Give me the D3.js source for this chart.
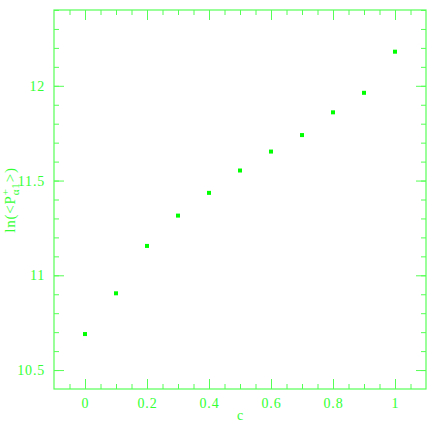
<!DOCTYPE html>
<html>
<head>
<meta charset="utf-8">
<script src="https://cdn.jsdelivr.net/npm/d3@7"></script>
<style>
  body { margin: 0; background: #fff; }
  text { font-family: "Liberation Serif", "DejaVu Serif", serif; fill: #33ff33; }
</style>
</head>
<body>
<svg id="chart" width="436" height="436"></svg>
<script>
    // values
    const cValues = [0, 0.1, 0.2, 0.3, 0.4, 0.5, 0.6, 0.7, 0.8, 0.9, 1.0];
    const lnValues = [10.69, 10.905, 11.155, 11.315, 11.435, 11.553, 11.653, 11.74, 11.86, 11.963, 12.18];
    const xTicks = [0, 0.2, 0.4, 0.6, 0.8, 1];
    const yTicks = [10.5, 11, 11.5, 12];

    const green = "#00ff00";
    const axisGreen = "#55ff55";

    const svg = d3.select("#chart");
    const mLeft = 54, mRight = 426, mTop = 10, mBottom = 389;

    const x = d3.scaleLinear().domain([-0.1, 1.1]).range([mLeft, mRight]);
    const y = d3.scaleLinear().domain([10.4, 12.4]).range([mBottom, mTop]);

    const xMinor = d3.range(-0.05, 1.1, 0.05).map(v => +v.toFixed(2));
    const yMinor = d3.range(10.5, 12.4, 0.1).map(v => +v.toFixed(1));

    const styleAxis = g => {
        g.select(".domain").remove();
        g.selectAll("line").attr("stroke", axisGreen);
        g.selectAll("text").attr("font-size", 14).attr("fill", "#33ff33")
            .attr("letter-spacing", 0.8)
            .attr("font-family", "Liberation Serif, serif");
    };

    // minor ticks on all four sides
    svg.append("g").attr("transform", `translate(0,${mBottom})`)
        .call(d3.axisBottom(x).tickValues(xMinor).tickSize(-5).tickFormat(""))
        .call(styleAxis);
    svg.append("g").attr("transform", `translate(0,${mTop})`)
        .call(d3.axisTop(x).tickValues(xMinor).tickSize(-5).tickFormat(""))
        .call(styleAxis);
    svg.append("g").attr("transform", `translate(${mLeft},0)`)
        .call(d3.axisLeft(y).tickValues(yMinor).tickSize(-5).tickFormat(""))
        .call(styleAxis);
    svg.append("g").attr("transform", `translate(${mRight},0)`)
        .call(d3.axisRight(y).tickValues(yMinor).tickSize(-5).tickFormat(""))
        .call(styleAxis);

    // major ticks
    svg.append("g").attr("transform", `translate(0,${mBottom})`)
        .call(d3.axisBottom(x).tickValues(xTicks).tickSize(-10).tickPadding(9).tickFormat(d3.format("")))
        .call(styleAxis);
    svg.append("g").attr("transform", `translate(0,${mTop})`)
        .call(d3.axisTop(x).tickValues(xTicks).tickSize(-10).tickFormat(""))
        .call(styleAxis);
    svg.append("g").attr("transform", `translate(${mLeft},0)`)
        .call(d3.axisLeft(y).tickValues(yTicks).tickSize(-10).tickPadding(9).tickFormat(d3.format("")))
        .call(styleAxis);
    svg.append("g").attr("transform", `translate(${mRight},0)`)
        .call(d3.axisRight(y).tickValues(yTicks).tickSize(-10).tickFormat(""))
        .call(styleAxis);

    // frame
    svg.append("rect")
        .attr("x", mLeft).attr("y", mTop)
        .attr("width", mRight - mLeft).attr("height", mBottom - mTop)
        .attr("fill", "none").attr("stroke", axisGreen).attr("stroke-width", 1.2);

    // points
    svg.append("g").selectAll("rect").data(cValues).join("rect")
        .attr("x", d => x(d) - 2)
        .attr("y", (d, i) => y(lnValues[i]) - 2)
        .attr("width", 4).attr("height", 4)
        .attr("fill", green);

    // axis titles
    svg.append("text")
        .attr("x", 240).attr("y", 420)
        .attr("text-anchor", "middle").attr("font-size", 14)
        .text("c");

    const yl = svg.append("text")
        .attr("transform", "translate(15,200) rotate(-90)")
        .attr("text-anchor", "middle").attr("font-size", 15)
        .attr("letter-spacing", 0.8);
    yl.append("tspan").text("ln(<P");
    yl.append("tspan").attr("font-size", 11).attr("dy", -6).text("+");
    yl.append("tspan").attr("font-size", 11).attr("dx", -7).attr("dy", 10).text("α1");
    yl.append("tspan").attr("dy", -4).text(">)");
</script>
</body>
</html>
